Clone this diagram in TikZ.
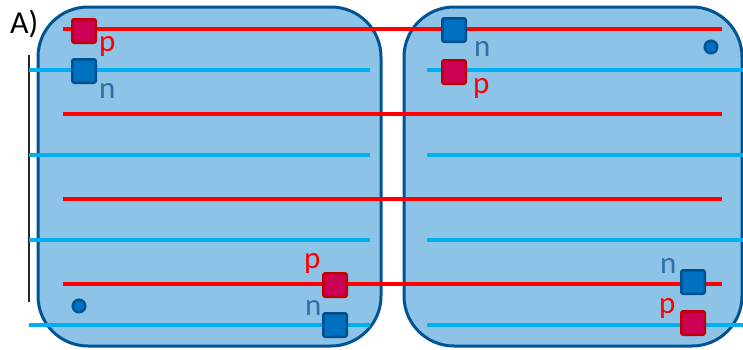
\documentclass[tikz,border=0pt]{standalone}
\usepackage{fontspec}
\setmainfont{Carlito}
\definecolor{boxfill}{HTML}{8DC3E6}
\definecolor{boxline}{HTML}{005493}
\definecolor{redline}{HTML}{FF0000}
\definecolor{blueline}{HTML}{00B0F0}
\definecolor{pfill}{HTML}{CC0055}
\definecolor{pline}{HTML}{C00000}
\definecolor{nfill}{HTML}{0070C0}
\definecolor{nline}{HTML}{00508F}
\definecolor{ntext}{HTML}{2F6EA6}
\begin{document}
\begin{tikzpicture}[x=1pt,y=-1pt,
  cell/.style={draw=boxline,fill=boxfill,line width=3pt,rounded corners=50pt},
  rl/.style={draw=redline,line width=4pt},
  bl/.style={draw=blueline,line width=4pt},
  psq/.style={draw=pline,fill=pfill,line width=2.5pt,minimum size=23.5pt,inner sep=0pt,rounded corners=2pt},
  nsq/.style={draw=nline,fill=nfill,line width=2.5pt,minimum size=23.5pt,inner sep=0pt,rounded corners=2pt},
  plab/.style={text=redline,font=\fontsize{31}{31}\selectfont,inner sep=0pt},
  nlab/.style={text=ntext,font=\fontsize{31}{31}\selectfont,inner sep=0pt},
  dot/.style={circle,draw=boxline,fill=nfill,line width=2.5pt,minimum size=12.5pt,inner sep=0pt}]
\useasboundingbox (0,0) rectangle (743,349);
% boxes
\draw[cell] (38,7) rectangle (381,346);
\draw[cell] (404,7) rectangle (742,346);
% thin vertical line
\draw[line width=1.2pt,black!85] (29,55) -- (29,302);
% lines
\foreach \y in {29,114,199,284} {
  \coordinate (rs\y) at (63,\y);
  \coordinate (re\y) at (722,\y);
  \draw[rl] (rs\y) -- (re\y);
}
\foreach \y in {70,155,240,325} {
  \coordinate (bls\y) at (29,\y);
  \coordinate (ble\y) at (370,\y);
  \coordinate (brs\y) at (427,\y);
  \coordinate (bre\y) at (743,\y);
  \draw[bl] (bls\y) -- (ble\y);
  \draw[bl] (brs\y) -- (bre\y);
}
% label A)
\node[font=\fontsize{32}{32}\selectfont,inner sep=0pt,anchor=base west] (A) at (10,33) {A)};
% squares top-left
\node[psq] (p1) at (84,31) {};
\node[plab,anchor=base west] (p1l) at (99,51) {p};
\node[nsq] (n1) at (84,71) {};
\node[nlab,anchor=base west] (n1l) at (99,98) {n};
% top-right
\node[nsq] (n2) at (454,30) {};
\node[nlab,anchor=base west] (n2l) at (474,56) {n};
\node[psq] (p2) at (454,72) {};
\node[plab,anchor=base west] (p2l) at (473,93) {p};
% bottom-left
\node[psq] (p3) at (335,285) {};
\node[plab,anchor=base west] (p3l) at (304,268) {p};
\node[nsq] (n3) at (335,325) {};
\node[nlab,anchor=base west] (n3l) at (305,315) {n};
% bottom-right
\node[nsq] (n4) at (693,282) {};
\node[nlab,anchor=base west] (n4l) at (660,273) {n};
\node[psq] (p4) at (693,323) {};
\node[plab,anchor=base west] (p4l) at (659,313) {p};
% dots
\node[dot] (d1) at (79,306) {};
\node[dot] (d2) at (711,47) {};
\end{tikzpicture}
\end{document}
